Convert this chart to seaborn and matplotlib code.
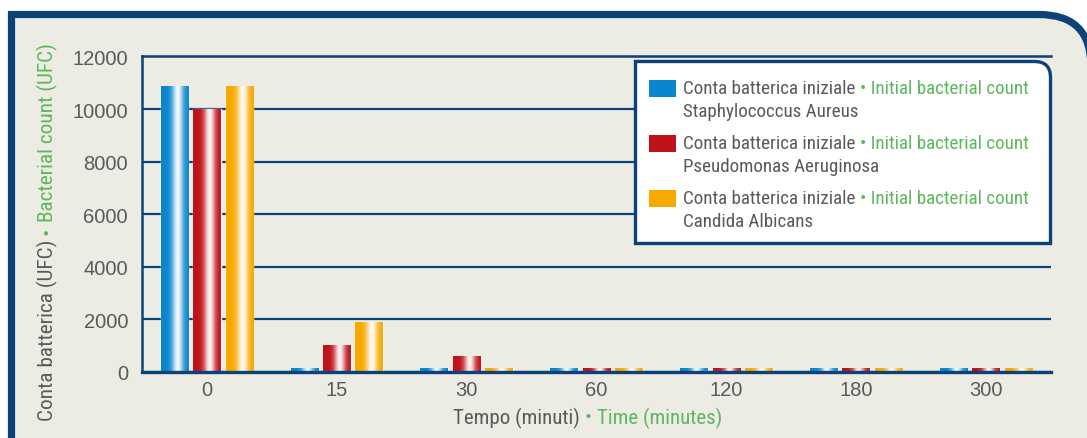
import numpy as np
import pandas as pd
import seaborn as sns
import matplotlib.pyplot as plt
from matplotlib import font_manager as fm
from matplotlib.patches import PathPatch, Rectangle
from matplotlib.path import Path
from matplotlib.transforms import IdentityTransform

# dati
tempi = ["0", "15", "30", "60", "120", "180", "300"]
specie = ["Staphylococcus Aureus", "Pseudomonas Aeruginosa", "Candida Albicans"]
staph = [10850, 150, 150, 150, 150, 150, 150]
pseudo = [10000, 1000, 600, 150, 150, 150, 150]
candida = [10850, 1900, 150, 150, 150, 150, 150]
colori = ["#0a86cf", "#c0121b", "#f7a900"]

df = pd.DataFrame({
    "Tempo": tempi * 3,
    "UFC": staph + pseudo + candida,
    "Specie": [s for s in specie for _ in tempi],
})

W, H = 1087, 439
BG = "#ecebe4"
BLU = "#0c4278"
GRIGIO = "#5a5a5a"
VERDE = "#5db75c"

names = {f.name for f in fm.fontManager.ttflist}
FONT = "Lato"
for cand in ["Roboto Condensed", "Liberation Sans Narrow", "Lato"]:
    if cand in names:
        FONT = cand
        break

sns.set_theme(style="white")
plt.rcParams["font.family"] = ["Liberation Sans", "DejaVu Sans"]

fig = plt.figure(figsize=(W / 100, H / 100), dpi=100)
fig.patch.set_facecolor("white")
ID = IdentityTransform()


def riquadro(x0, x1, ytop, ybot, rr):
    # rettangolo con solo l'angolo in alto a destra arrotondato
    verts = [(x0, ybot), (x0, ytop), (x1 - rr, ytop), (x1, ytop), (x1, ytop - rr),
             (x1, ybot), (x0, ybot)]
    codes = [Path.MOVETO, Path.LINETO, Path.LINETO, Path.CURVE3, Path.CURVE3,
             Path.LINETO, Path.CLOSEPOLY]
    return Path(verts, codes)


# cornice blu
fig.patches.append(PathPatch(riquadro(11.5, 1091, H - 15.5, -60, 52), transform=ID,
                             facecolor=BG, edgecolor=BLU, lw=5.2, zorder=-1))

ax = fig.add_axes([142 / W, (H - 373) / H, (1051 - 142) / W, (373 - 57.4) / H])
ax.set_facecolor("none")
ax.set_zorder(1)

sns.barplot(data=df, x="Tempo", y="UFC", hue="Specie", palette=colori,
            width=0.75, gap=0.15, ax=ax, legend=False, saturation=1, zorder=3)

# effetto cilindro sulle barre
t = np.linspace(0, 1, 80)
f = 0.95 * np.exp(-((t - 0.6) / 0.2) ** 2)
for p in ax.patches:
    base = np.array(p.get_facecolor()[:3])
    img = base[None, :] * (1 - f[:, None]) + f[:, None]
    img = img[None, :, :].clip(0, 1)
    x0, w, h = p.get_x(), p.get_width(), p.get_height()
    ax.imshow(img, extent=[x0, x0 + w, 0, h], aspect="auto",
              interpolation="bilinear", zorder=4)

ax.set_xlim(-0.5, 6.5)
ax.set_ylim(0, 12000)
ax.set_yticks(range(0, 12001, 2000))
ax.yaxis.grid(True, color=BLU, lw=1.6)
ax.set_axisbelow(True)
ax.spines["right"].set_visible(False)
for s in ["left", "bottom", "top"]:
    ax.spines[s].set_color(BLU)
    ax.spines[s].set_linewidth(1.8)
ax.spines["bottom"].set_linewidth(2.4)
ax.spines["bottom"].set_zorder(5)
ax.tick_params(axis="y", length=0, pad=10, labelsize=14.5, labelcolor=GRIGIO)
ax.tick_params(axis="x", which="major", length=0, pad=6, labelsize=14.5, labelcolor=GRIGIO)
ax.set_xticks(np.arange(-0.5, 7, 1), minor=True)
ax.tick_params(axis="x", which="minor", length=8, width=2, color=BLU, direction="out")
ax.set_xlabel("")
ax.set_ylabel("")

r = fig.canvas.get_renderer()


def testo_multi(x, y, parti, size, rot=0, gap=5):
    # scrive pezzi di testo di colori diversi uno dopo l'altro
    for s, c in parti:
        if rot:
            tx = fig.text(x, y, s, color=c, fontsize=size, family=[FONT, "DejaVu Sans"],
                          rotation=90, ha="center", va="bottom", transform=ID, zorder=8)
            y += tx.get_window_extent(r).height + gap
        else:
            tx = fig.text(x, y, s, color=c, fontsize=size, family=[FONT, "DejaVu Sans"],
                          ha="left", va="center", transform=ID, zorder=8)
            x += tx.get_window_extent(r).width + gap


# etichette assi
testo_multi(47, H - 421, [("Conta batterica (UFC)", GRIGIO), ("•", VERDE),
                          ("Bacterial count (UFC)", VERDE)], 15.3, rot=90)
testo_multi(453, H - 418, [("Tempo (minuti)", GRIGIO), ("•", VERDE),
                           ("Time (minutes)", VERDE)], 15)

# legenda
fig.patches.append(PathPatch(riquadro(635.5, 1050.5, H - 62.5, H - 244.5, 16), transform=ID,
                             facecolor="white", edgecolor=BLU, lw=2.4, zorder=6))
righe = [89, 144, 199]
for yy, c, s in zip(righe, colori, specie):
    fig.patches.append(Rectangle((649, H - yy - 8.5), 27, 17, transform=ID,
                                 facecolor=c, edgecolor="none", zorder=7))
    testo_multi(683, H - yy, [("Conta batterica iniziale", GRIGIO),
                              ("• Initial bacterial count", VERDE)], 13.7)
    fig.text(683, H - yy - 23, s, color=GRIGIO, fontsize=13.7, family=[FONT, "DejaVu Sans"],
             ha="left", va="center", transform=ID, zorder=8)

plt.savefig("out.png", dpi=100, facecolor="white")
